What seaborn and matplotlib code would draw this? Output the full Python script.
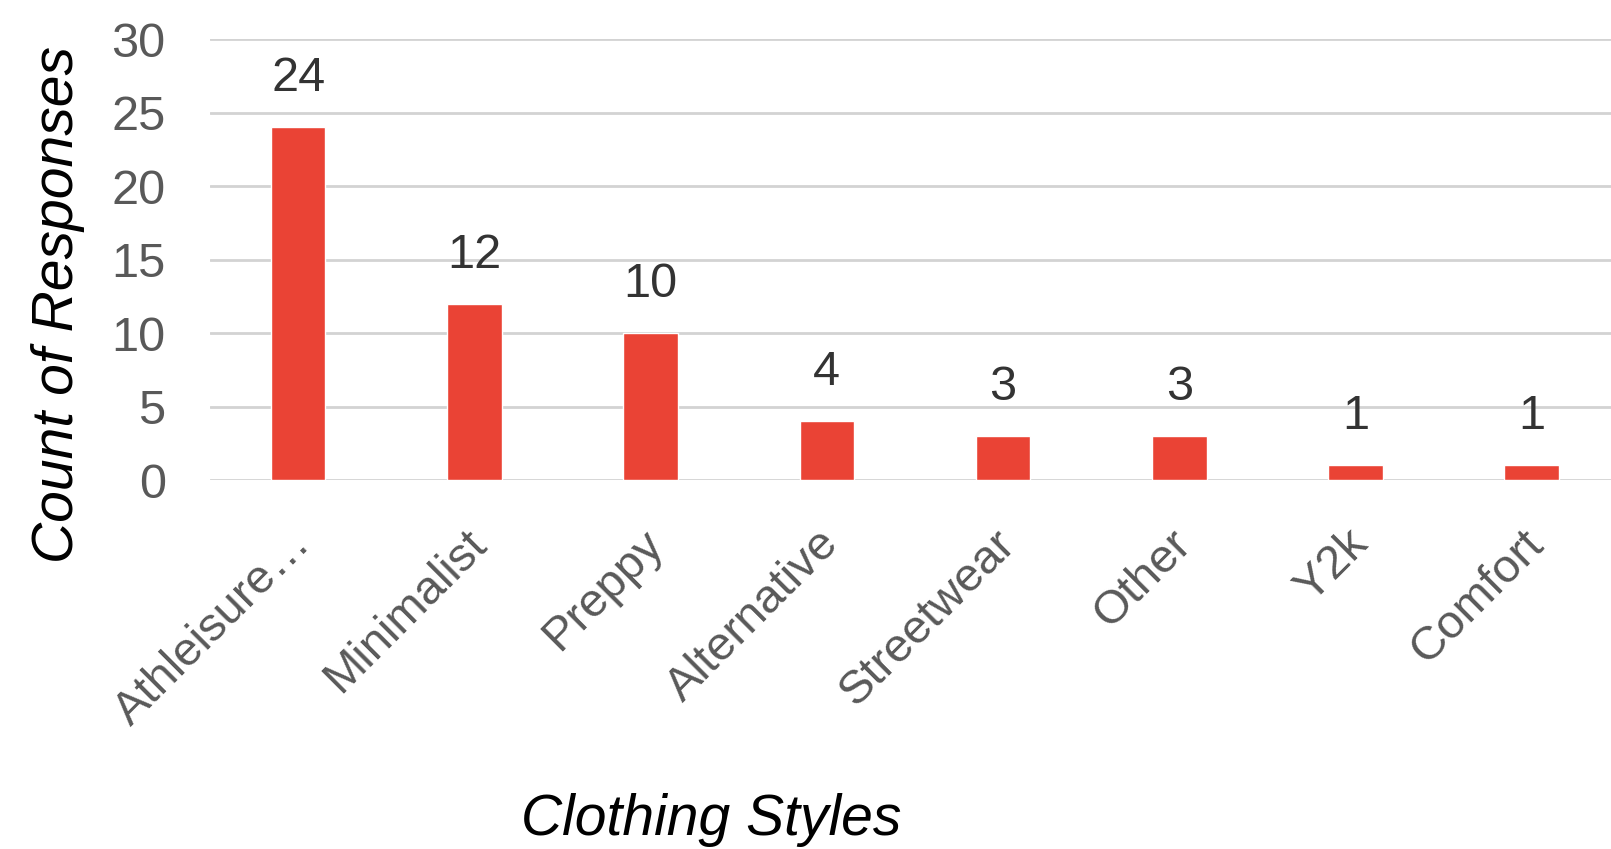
import matplotlib
matplotlib.use("Agg")
import matplotlib.pyplot as plt
import matplotlib.transforms as mtransforms
import seaborn as sns
import pandas as pd

styles = ["Athleisure…", "Minimalist", "Preppy", "Alternative",
          "Streetwear", "Other", "Y2k", "Comfort"]
counts = [24, 12, 10, 4, 3, 3, 1, 1]
y_ticks = [0, 5, 10, 15, 20, 25, 30]

df = pd.DataFrame({"style": styles, "count": counts})

sns.set_theme(style="white")
plt.rcParams['font.family'] = ['Liberation Sans', 'DejaVu Sans']

fig = plt.figure(figsize=(16.11, 8.49), dpi=100)
ax = fig.add_axes([0.1304, 0.4346, 0.8696, 0.5194])

sns.barplot(data=df, x="style", y="count", color="#EA4335", width=0.31,
            saturation=1, ax=ax, zorder=3)

ax.set_xlim(-0.5, 7.45)
ax.set_ylim(0, 30)
ax.set_yticks(y_ticks)
ax.yaxis.grid(True, color="#D3D3D3", linewidth=2, zorder=0)
ax.set_axisbelow(True)
sns.despine(ax=ax, left=True, bottom=True, top=True, right=True)

ax.tick_params(axis="y", length=0, pad=32, labelsize=35, labelcolor="#595959")
ax.tick_params(axis="x", length=0, pad=30, labelsize=34, labelcolor="#595959")
for lbl in ax.get_yticklabels():
    lbl.set_horizontalalignment("right")
shift = mtransforms.ScaledTranslation(-0.1, 0, fig.dpi_scale_trans)
for lbl in ax.get_xticklabels():
    lbl.set_rotation(45)
    lbl.set_horizontalalignment("right")
    lbl.set_verticalalignment("top")
    lbl.set_rotation_mode("anchor")
    lbl.set_transform(lbl.get_transform() + shift)

# value labels above bars
for i, v in enumerate(counts):
    ax.annotate(str(v), (i, v), xytext=(0, 26), textcoords="offset points",
                ha="center", va="baseline", fontsize=35, color="#333333")

ax.set_ylabel("Count of Responses", fontsize=41, style="italic", color="black")
ax.yaxis.set_label_coords(-0.089, 0.397)
ax.set_xlabel("Clothing Styles", fontsize=41, style="italic", color="black",
              va="baseline")
ax.xaxis.set_label_coords(0.358, -0.805)

fig.savefig("out.png", dpi=100)
